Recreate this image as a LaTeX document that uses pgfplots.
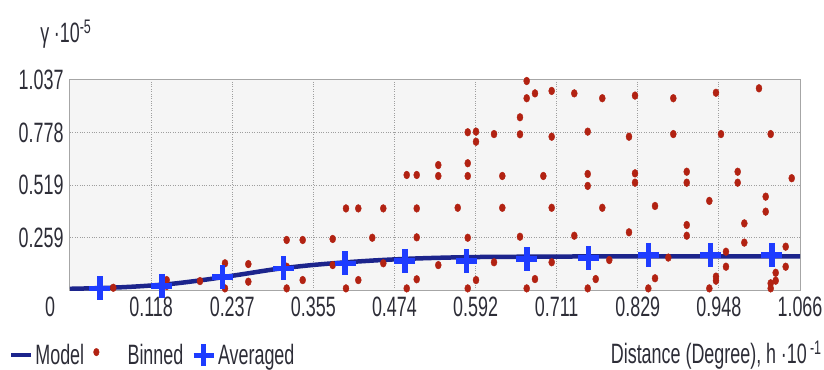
\documentclass[border=0pt]{standalone}
\usepackage{fontspec}
\setmainfont{Liberation Sans}[FakeStretch=0.64]
\usepackage{pgfplots}
\pgfplotsset{compat=1.18}
\definecolor{binc}{RGB}{178,34,18}
\definecolor{modelc}{RGB}{28,36,140}
\definecolor{avgc}{RGB}{30,60,255}
\definecolor{txt}{RGB}{45,45,55}
\begin{document}
\begin{tikzpicture}
\path[use as bounding box] (-70bp,-80bp) rectangle (754bp,290bp);
\begin{axis}[
  at={(0,0)}, anchor=south west,
  scale only axis, width=730bp, height=210bp,
  xmin=0, xmax=1.066, ymin=0, ymax=1.037,
  axis background/.style={fill=black!4},
  axis line style={draw=black!35, line width=1bp},
  font=\fontsize{28bp}{31bp}\selectfont\color{txt},
  xtick={0,0.11844,0.23689,0.35533,0.47378,0.59222,0.71067,0.82911,0.94756,1.066},
  xticklabels={\makebox[0pt][r]{0\hspace{15bp}},0.118,0.237,0.355,0.474,0.592,0.711,0.829,0.948,1.066},
  ytick={0.25925,0.5185,0.77775,1.037},
  yticklabels={0.259,0.519,0.778,1.037},
  major tick length=0pt,
  xticklabel style={yshift=-3bp},
  yticklabel style={xshift=-3bp},
  grid=major,
  major grid style={draw=black!38, dotted, line width=1bp},
  title={γ\,·10\textsuperscript{-5}},
  title style={at={(axis description cs:-0.041,1.19)}, anchor=west, inner sep=0pt},
  xlabel={Distance (Degree), h\,·10\textsuperscript{\,-1}},
  xlabel style={at={(axis description cs:1.03,-0.31)}, anchor=east, inner sep=0pt},
  legend columns=3,
  legend style={draw=none, fill=none, at={(axis description cs:-0.084,-0.31)}, anchor=west,
    inner sep=0pt, font=\fontsize{28bp}{31bp}\selectfont\color{txt},
    /tikz/every even column/.append style={column sep=5bp}},
]
\addlegendimage{legend image code/.code={\draw[line width=4.5bp,modelc] (0bp,0bp)--(20bp,0bp);}}
\addlegendentry{Model}
\addlegendimage{legend image code/.code={\fill[binc] (5bp,3bp) ellipse (2.8bp and 3.8bp); \path (0bp,0bp) (34bp,0bp);}}
\addlegendentry{Binned}
\addlegendimage{legend image code/.code={\draw[line width=5bp,avgc] (13bp,-11bp)--(13bp,11bp) (3bp,0bp)--(23bp,0bp); \path (0bp,0bp) (25bp,0bp);}}
\addlegendentry{Averaged}

\addplot[forget plot, only marks, mark=*, mark size=3bp, color=binc, mark options={yscale=1.3, draw=none, fill=binc}] table {
x y
0.0632 0.011
0.1412 0.049
0.1412 0.020
0.1898 0.044
0.2263 0.132
0.2263 0.008
0.2604 0.128
0.2604 0.041
0.3164 0.247
0.3164 0.008
0.3164 0.115
0.3398 0.247
0.3398 0.049
0.3836 0.252
0.3836 0.123
0.4030 0.403
0.4030 0.008
0.4210 0.403
0.4210 0.049
0.4414 0.258
0.4575 0.403
0.4575 0.132
0.4917 0.568
0.4917 0.008
0.5063 0.568
0.5063 0.403
0.5063 0.260
0.5063 0.053
0.5378 0.617
0.5378 0.563
0.5378 0.123
0.5662 0.406
0.5808 0.779
0.5808 0.626
0.5808 0.563
0.5808 0.258
0.5808 0.008
0.5929 0.782
0.5929 0.732
0.5929 0.049
0.6192 0.770
0.6192 0.137
0.6313 0.563
0.6313 0.406
0.6571 0.853
0.6571 0.769
0.6571 0.263
0.6669 1.032
0.6669 0.947
0.6669 0.008
0.6790 0.971
0.6790 0.054
0.6912 0.563
0.7034 0.983
0.7034 0.757
0.7034 0.406
0.7034 0.137
0.7364 0.971
0.7364 0.268
0.7560 0.782
0.7560 0.573
0.7560 0.514
0.7560 0.008
0.7677 0.054
0.7773 0.947
0.7773 0.406
0.7875 0.148
0.8163 0.757
0.8163 0.285
0.8251 0.960
0.8251 0.576
0.8251 0.530
0.8445 0.008
0.8543 0.415
0.8543 0.058
0.8737 0.160
0.8810 0.947
0.8810 0.770
0.9006 0.584
0.9006 0.530
0.9006 0.321
0.9006 0.268
0.9336 0.440
0.9336 0.008
0.9433 0.974
0.9433 0.066
0.9433 0.046
0.9506 0.770
0.9579 0.189
0.9579 0.115
0.9750 0.584
0.9750 0.530
0.9847 0.329
0.9847 0.234
1.0061 0.996
1.0159 0.461
1.0159 0.387
1.0232 0.770
1.0232 0.008
1.0232 0.033
1.0305 0.085
1.0305 0.046
1.0451 0.214
1.0451 0.115
1.0539 0.552
};

\addplot[forget plot, smooth, line width=4.5bp, color=modelc, no marks] coordinates {
(0,0.006) (0.05,0.010) (0.1,0.018) (0.15,0.031) (0.2,0.052) (0.25,0.077)
(0.3,0.103) (0.35,0.122) (0.4,0.136) (0.45,0.147) (0.5,0.155) (0.55,0.160)
(0.6,0.163) (0.7,0.165) (0.8,0.166) (0.9,0.166) (1.066,0.166)
};

\addplot[forget plot, only marks, mark=+, mark size=10.5bp, color=avgc, mark options={line width=5.5bp, yscale=1.15}] coordinates {
(0.0438,0.008) (0.134,0.020) (0.223,0.063) (0.3115,0.107) (0.4016,0.132)
(0.489,0.143) (0.579,0.143) (0.667,0.152) (0.757,0.157) (0.845,0.173)
(0.935,0.173) (1.025,0.173)
};
\end{axis}
\end{tikzpicture}
\end{document}
